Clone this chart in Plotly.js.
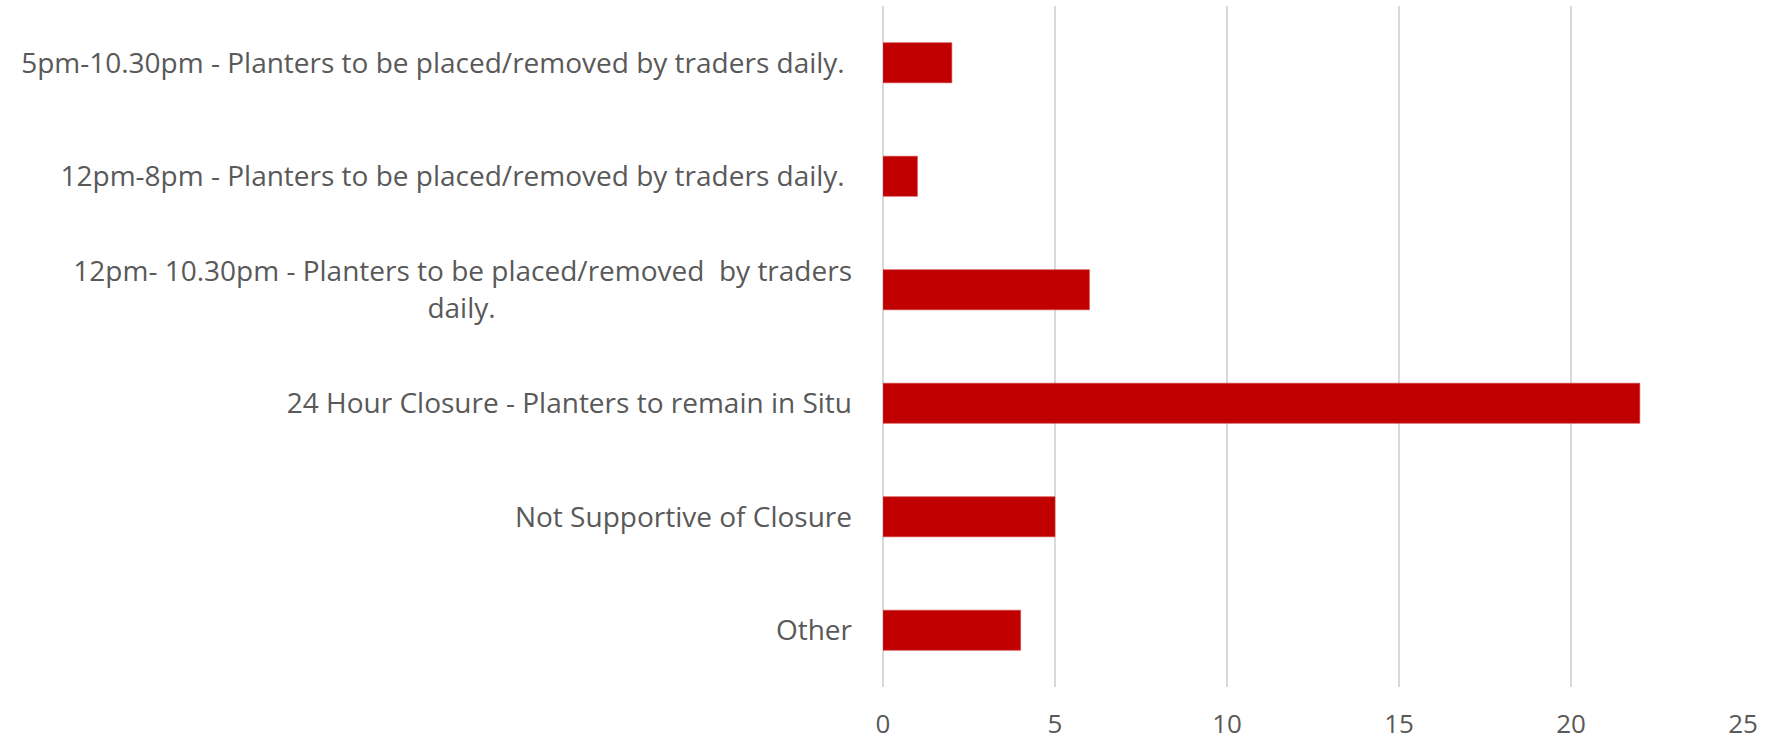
<!DOCTYPE html>
<html>
<head>
<meta charset="utf-8">
<script src="https://cdn.plot.ly/plotly-3.0.1.min.js"></script>
<style>html,body{margin:0;padding:0;background:#fff;}#chart{width:1779px;height:742px;}</style>
</head>
<body>
<div id="chart"></div>
<script>
const categories = [
  "5pm-10.30pm - Planters to be placed/removed by traders daily. ",
  "12pm-8pm - Planters to be placed/removed by traders daily. ",
  "12pm- 10.30pm - Planters to be placed/removed  by traders|daily.",
  "24 Hour Closure - Planters to remain in Situ",
  "Not Supportive of Closure",
  "Other"
];
const values = [2, 1, 6, 22, 5, 4];
const xTicks = [0, 5, 10, 15, 20, 25];

const FONT = "Open Sans";
const FSIZE = 28;

// build centred multi-line labels (Plotly right-aligns lines; pad shorter lines)
const cv = document.createElement('canvas').getContext('2d');
cv.font = FSIZE + "px '" + FONT + "'";
const nb = cv.measureText('\u00a0').width || FSIZE * 0.26;
function keepSpaces(s) {
  return s.replace(/  /g, ' \u00a0').replace(/ $/, '\u00a0');
}
function label(c) {
  const lines = c.split('|');
  if (lines.length === 1) return keepSpaces(c);
  const w = lines.map(l => cv.measureText(l).width);
  const mx = Math.max(...w);
  return lines.map((l, i) => {
    const pad = Math.round((mx - w[i]) / 2 / nb);
    return keepSpaces(l) + '\u00a0'.repeat(pad);
  }).join('<br>');
}
const labels = categories.map(label);

const trace = {
  type: 'bar',
  orientation: 'h',
  x: values,
  y: labels,
  marker: {color: '#c00000', line: {color: '#d43a3a', width: 0.6}},
  hoverinfo: 'x+y'
};

const layout = {
  width: 1779, height: 742,
  margin: {l: 883, r: 36, t: 6, b: 55},
  paper_bgcolor: '#ffffff', plot_bgcolor: '#ffffff',
  bargap: 0.647,
  showlegend: false,
  font: {family: FONT, size: FSIZE, color: '#595959'},
  xaxis: {
    range: [0, 25],
    tickvals: xTicks,
    ticktext: xTicks.map(String),
    showgrid: true, gridcolor: '#d9d9d9', gridwidth: 1.3,
    zeroline: true, zerolinecolor: '#d9d9d9', zerolinewidth: 1.3,
    showline: false, ticks: '',
    ticklabelstandoff: 19,
    tickfont: {family: FONT, size: 26, color: '#595959'},
    fixedrange: true
  },
  yaxis: {
    type: 'category',
    categoryorder: 'array', categoryarray: labels,
    autorange: 'reversed',
    showgrid: false, zeroline: false, showline: false, ticks: '',
    ticklabelstandoff: 30,
    tickfont: {family: FONT, size: FSIZE, color: '#595959'},
    fixedrange: true
  }
};

Plotly.newPlot('chart', [trace], layout, {displayModeBar: false, staticPlot: true});
</script>
</body>
</html>
